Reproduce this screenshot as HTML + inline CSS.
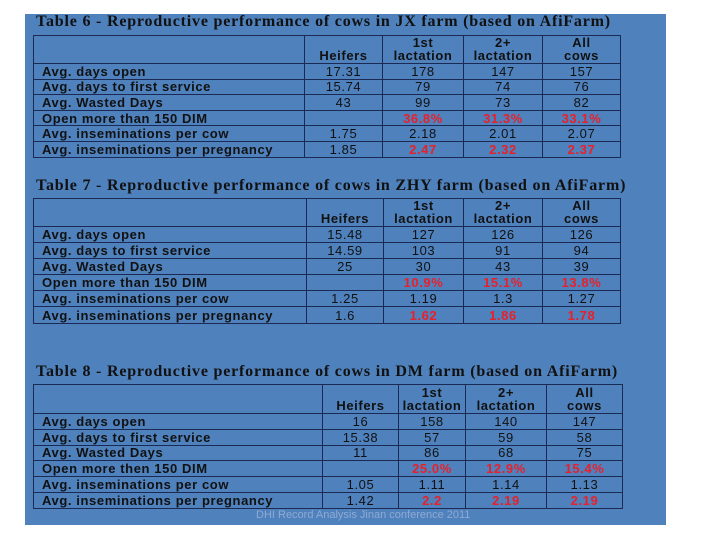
<!DOCTYPE html>
<html><head><meta charset="utf-8"><style>
body{margin:0;width:720px;height:540px;background:#fff;position:relative;overflow:hidden;font-family:"Liberation Sans",sans-serif}
#slide{position:absolute;left:25px;top:14px;width:641px;height:511px;background:#4f81bd}
.title{position:absolute;font-family:"Liberation Serif",serif;font-weight:bold;font-size:16px;letter-spacing:0.8px;color:#111;white-space:nowrap}
table{position:absolute;border-collapse:collapse;table-layout:fixed}
td{border:1.3px solid #1a2a55;padding:0;font-size:13px;letter-spacing:0.6px;color:#111;text-align:center;line-height:13px;overflow:hidden;white-space:nowrap}
td.lab{text-align:left;padding-left:8px;font-weight:bold;border-right:1.3px solid #1a2a55}
td.h{font-weight:bold;vertical-align:bottom;padding-bottom:1px}
td.red{color:#e8202a;font-weight:bold}
tr.hd td.lab{border-bottom:1.3px solid #1a2a55}
#footer{position:absolute;left:256px;top:509px;font-size:11px;color:#8faad4;white-space:nowrap}
</style></head><body>
<div id="slide"></div>
<div id="footer">DHI Record Analysis Jinan conference 2011</div>
<script>
const labels=["Avg. days open","Avg. days to first service","Avg. Wasted Days","Open more than 150 DIM","Avg. inseminations per cow","Avg. inseminations per pregnancy"];
const labels8=["Avg. days open","Avg. days to first service","Avg. Wasted Days","Open more then 150 DIM","Avg. inseminations per cow","Avg. inseminations per pregnancy"];
const t6=[["17.31","178","147","157"],["15.74","79","74","76"],["43","99","73","82"],["","36.8%","31.3%","33.1%"],["1.75","2.18","2.01","2.07"],["1.85","2.47","2.32","2.37"]];
const t7=[["15.48","127","126","126"],["14.59","103","91","94"],["25","30","43","39"],["","10.9%","15.1%","13.8%"],["1.25","1.19","1.3","1.27"],["1.6","1.62","1.86","1.78"]];
const t8=[["16","158","140","147"],["15.38","57","59","58"],["11","86","68","75"],["","25.0%","12.9%","15.4%"],["1.05","1.11","1.14","1.13"],["1.42","2.2","2.19","2.19"]];
const redRows=[3,5];
const specs=[
 {name:"table-6",title:"Table 6 - Reproductive performance of cows in JX farm (based on AfiFarm)",tt:13,x:33,y:35,cols:[271,78,81,79,78],hh:28,rh:15.6,data:t6,labels:labels},
 {name:"table-7",title:"Table 7 - Reproductive performance of cows in ZHY farm (based on AfiFarm)",tt:177,x:33,y:198,cols:[273,77,80,79,78],hh:28,rh:16.1,data:t7,labels:labels},
 {name:"table-8",title:"Table 8 - Reproductive performance of cows in DM farm (based on AfiFarm)",tt:363,x:33,y:384,cols:[289,76,67,81,76],hh:29,rh:15.8,data:t8,labels:labels8}
];
const heads=["Heifers","1st<br>lactation","2+<br>lactation","All<br>cows"];
specs.forEach(s=>{
 const ti=document.createElement('div');ti.className='title';ti.style.left='36px';ti.style.top=s.tt+'px';ti.textContent=s.title;
 
 
 document.body.appendChild(ti);
 const tb=document.createElement('table');tb.style.left=s.x+'px';tb.style.top=s.y+'px';
 
 
 let cg='<colgroup>'+s.cols.map(w=>'<col style="width:'+w+'px">').join('')+'</colgroup>';
 let h='<tr class="hd" style="height:'+s.hh+'px"><td class="lab"></td>'+heads.map(x=>'<td class="h">'+x+'</td>').join('')+'</tr>';
 s.data.forEach((r,i)=>{
  h+='<tr style="height:'+s.rh+'px"><td class="lab">'+s.labels[i]+'</td>'+r.map((v,j)=>'<td class="'+(j>0&&redRows.includes(i)?'red':'')+'">'+v+'</td>').join('')+'</tr>';
 });
 tb.innerHTML=cg+h;
 tb.style.width=s.cols.reduce((a,b)=>a+b,0)+'px';
 document.body.appendChild(tb);
});
</script>
</body></html>
